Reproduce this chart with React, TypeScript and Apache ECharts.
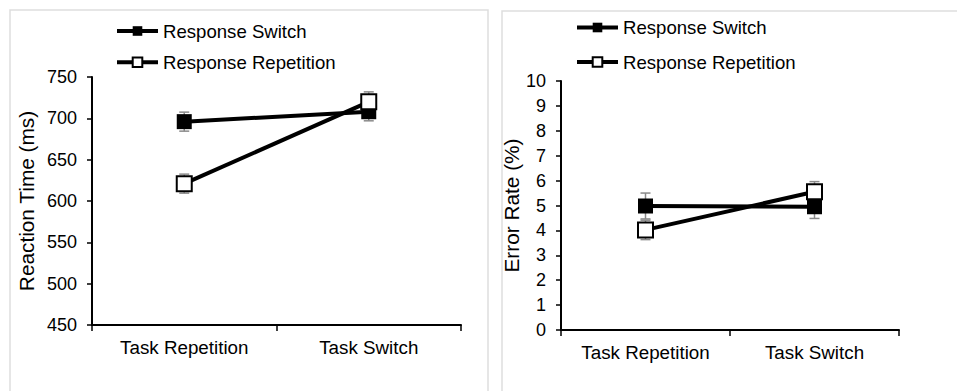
import React, { useEffect, useRef } from "react";
import * as echarts from "echarts";

const categories = ["Task Repetition", "Task Switch"];
const seriesNames = ["Response Switch", "Response Repetition"];

// Reaction time (ms)
const rtSwitch = [696, 708];
const rtSwitchErr = [11.5, 11];
const rtRepetition = [621, 720];
const rtRepetitionErr = [11.5, 12];

// Error rate (%)
const erSwitch = [4.98, 4.95];
const erSwitchErr = [0.52, 0.47];
const erRepetition = [4.02, 5.55];
const erRepetitionErr = [0.39, 0.41];

const rtTicks = { min: 450, max: 750, interval: 50 };
const erTicks = { min: 0, max: 10, interval: 1 };

const FONT = "Liberation Sans, Arial, sans-serif";

function errorSeries(idx: number, means: number[], errs: number[]) {
  return {
    type: "custom",
    xAxisIndex: idx,
    yAxisIndex: idx,
    z: 1,
    silent: true,
    data: means.map((m, i) => [i, m, errs[i]]),
    encode: { x: 0, y: 1 },
    renderItem: (_p: any, api: any) => {
      const x = api.value(0);
      const y = api.value(1);
      const e = api.value(2);
      const top = api.coord([x, y + e]);
      const bot = api.coord([x, y - e]);
      const hw = 5;
      const st = { stroke: "#8a8a8a", lineWidth: 1.5 };
      return {
        type: "group",
        children: [
          { type: "line", shape: { x1: top[0], y1: top[1], x2: bot[0], y2: bot[1] }, style: st },
          { type: "line", shape: { x1: top[0] - hw, y1: top[1], x2: top[0] + hw, y2: top[1] }, style: st },
          { type: "line", shape: { x1: bot[0] - hw, y1: bot[1], x2: bot[0] + hw, y2: bot[1] }, style: st },
        ],
      };
    },
  };
}

function lineSeries(idx: number, name: string, values: number[], filled: boolean) {
  return {
    type: "line",
    name,
    xAxisIndex: idx,
    yAxisIndex: idx,
    z: filled ? 3 : 4,
    data: values,
    symbol: "rect",
    symbolSize: 15,
    showSymbol: true,
    lineStyle: { color: "#000", width: 4 },
    itemStyle: filled
      ? { color: "#000", borderColor: "#000", borderWidth: 0 }
      : { color: "#fff", borderColor: "#000", borderWidth: 2 },
    emphasis: { disabled: true },
  };
}

function xAxis(idx: number) {
  return {
    type: "category",
    gridIndex: idx,
    data: categories,
    boundaryGap: true,
    axisLine: { lineStyle: { color: "#000", width: 2 } },
    axisTick: { show: true, length: 6, lineStyle: { color: "#000", width: 1.5 } },
    axisLabel: { color: "#000", fontSize: 18.8, fontFamily: FONT, margin: 13 },
    splitLine: { show: false },
  };
}

function yAxis(idx: number, name: string, t: { min: number; max: number; interval: number }, gap: number) {
  return {
    type: "value",
    gridIndex: idx,
    min: t.min,
    max: t.max,
    interval: t.interval,
    name,
    nameLocation: "middle",
    nameGap: gap,
    nameTextStyle: { color: "#000", fontSize: 20.8, fontFamily: FONT },
    axisLine: { show: true, lineStyle: { color: "#000", width: 2 } },
    axisTick: { show: true, length: 5, lineStyle: { color: "#000", width: 1.5 } },
    axisLabel: { color: "#000", fontSize: 18, fontFamily: FONT, margin: 15 },
    splitLine: { show: false },
  };
}

function legend(left: number, top: number, gap: number) {
  return {
    orient: "vertical",
    left,
    top,
    padding: 0,
    data: seriesNames,
    itemWidth: 41,
    itemHeight: 12,
    itemGap: gap,
    selectedMode: false,
    textStyle: { color: "#000", fontSize: 18.6, fontFamily: FONT },
    lineStyle: { width: 4, color: "#000" },
  };
}

export default function App() {
  const ref = useRef<HTMLDivElement>(null);
  useEffect(() => {
    if (!ref.current) return;
    const chart = echarts.init(ref.current, undefined, { renderer: "svg" });
    chart.setOption({
      animation: false,
      backgroundColor: "#fff",
      textStyle: { fontFamily: FONT },
      graphic: [
        {
          type: "rect",
          shape: { x: 10, y: 10, width: 478, height: 400 },
          style: { fill: "none", stroke: "#dedede", lineWidth: 1.5 },
          silent: true,
        },
        {
          type: "rect",
          shape: { x: 502, y: 11, width: 480, height: 400 },
          style: { fill: "none", stroke: "#dedede", lineWidth: 1.5 },
          silent: true,
        },
      ],
      legend: [legend(115, 21.5, 12.2), legend(575, 18, 15.5)],
      grid: [
        { left: 92, right: 496, top: 77, bottom: 66, containLabel: false },
        { left: 561, right: 58, top: 81, bottom: 61, containLabel: false },
      ],
      xAxis: [xAxis(0), xAxis(1)],
      yAxis: [yAxis(0, "Reaction Time (ms)", rtTicks, 55), yAxis(1, "Error Rate (%)", erTicks, 32)],
      series: [
        errorSeries(0, rtSwitch, rtSwitchErr),
        errorSeries(0, rtRepetition, rtRepetitionErr),
        lineSeries(0, seriesNames[0], rtSwitch, true),
        lineSeries(0, seriesNames[1], rtRepetition, false),
        errorSeries(1, erSwitch, erSwitchErr),
        errorSeries(1, erRepetition, erRepetitionErr),
        lineSeries(1, seriesNames[0], erSwitch, true),
        lineSeries(1, seriesNames[1], erRepetition, false),
      ],
    });
    return () => chart.dispose();
  }, []);
  return (
    <div
      ref={ref}
      style={{ position: "fixed", left: 0, top: 0, width: 957, height: 391, background: "#fff" }}
    />
  );
}
